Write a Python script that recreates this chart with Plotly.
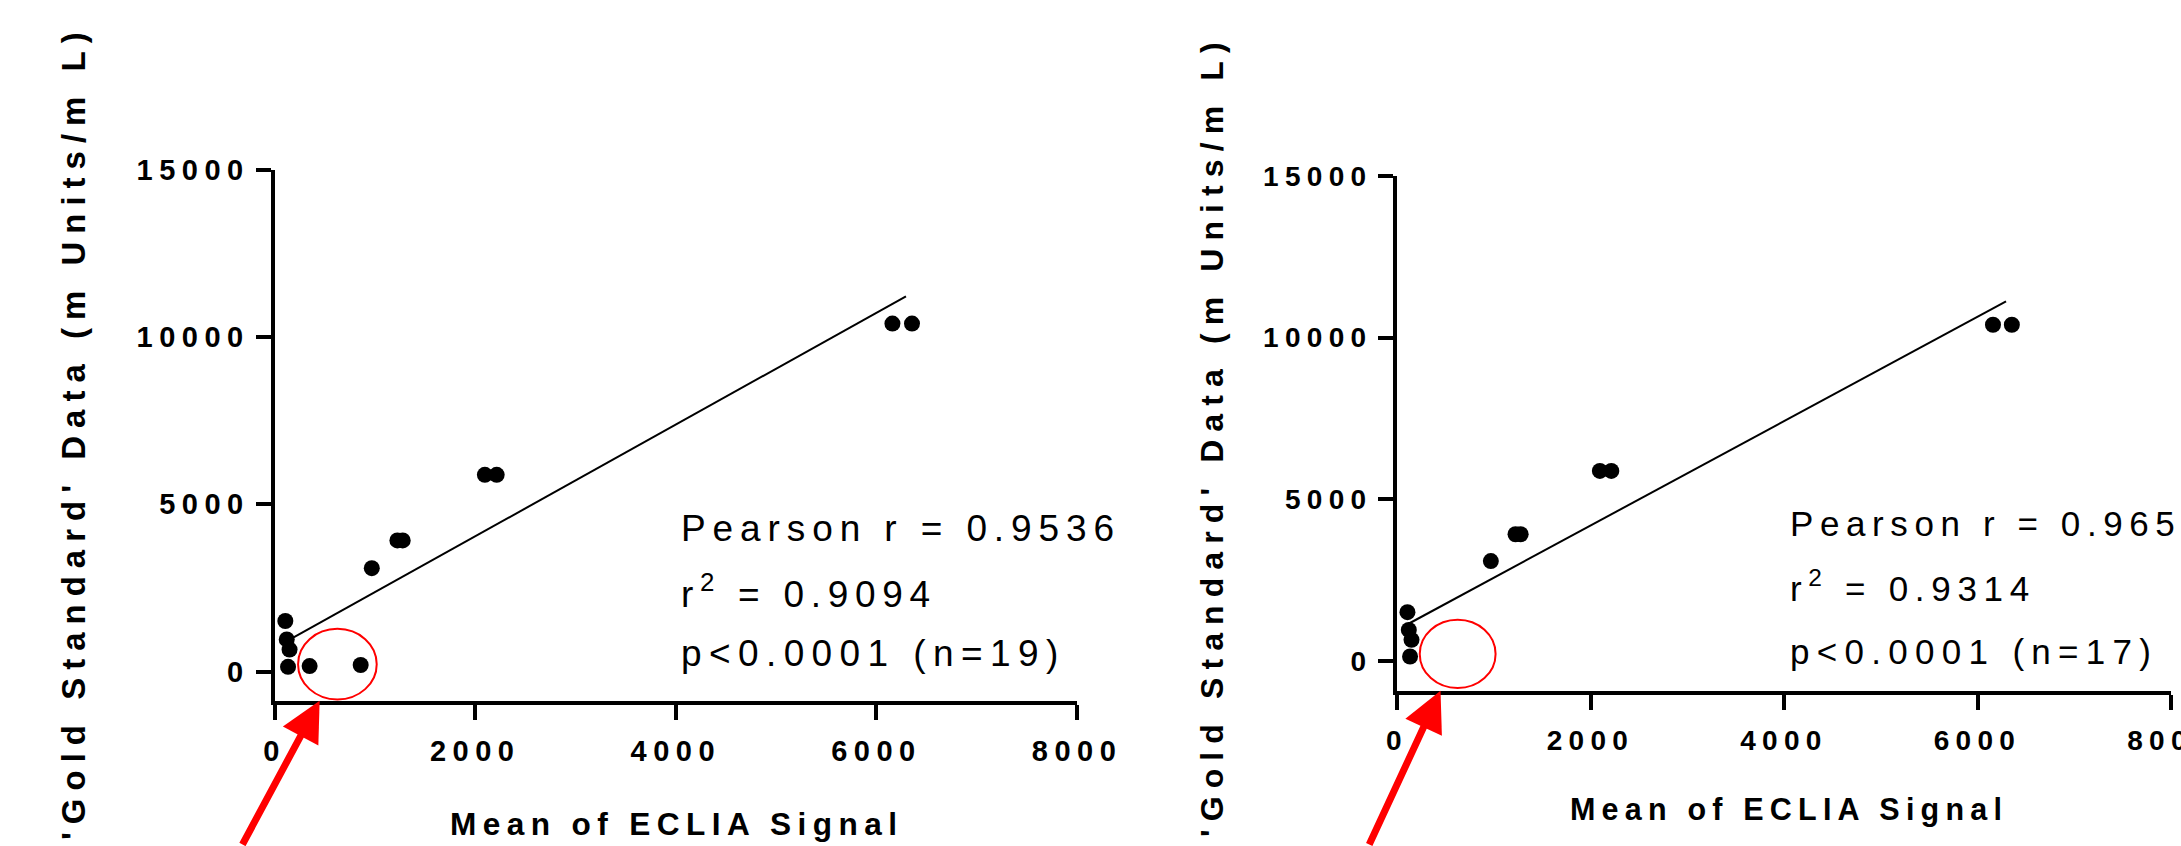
import plotly.graph_objects as go

# ---------------- data ----------------
eclia_signal = [6160, 6355, 2097, 2215, 1225, 1278, 970, 108, 122, 150, 135]
gold_standard = [10400, 10400, 5880, 5880, 3920, 3920, 3090, 1510, 960, 655, 140]
excluded_eclia = [350, 859]          # the two circled points (left panel only)
excluded_gold = [164, 194]

x_tick_values = [0, 2000, 4000, 6000, 8000]
x_tick_labels = ["0", "2000", "4000", "6000", "8000"]
y_tick_values = [0, 5000, 10000, 15000]
y_tick_labels = ["0", "5000", "10000", "15000"]

fit_slope = [1.67, 1.615]
fit_intercept = [700, 959]
fit_x_range = [110, 6295]

stats_left = ["Pearson r = 0.9536", "r<sup>2</sup> = 0.9094", "p&lt;0.0001 (n=19)"]
stats_right = ["Pearson r = 0.9651", "r<sup>2</sup> = 0.9314", "p&lt;0.0001 (n=17)"]

x_title = "Mean of ECLIA Signal"
y_title = "'Gold Standard' Data (m Units/m L)"

highlight_center = [627, 220]
highlight_half_size = [392, 1055]
arrow_tip_x = 450

# ---------------- layout helpers ----------------
W, H = 2181, 846
FONT = "Liberation Sans, Arial, Helvetica, sans-serif"


def spaced(text, px):
    return f'<span style="letter-spacing:{px}px">{text}</span>'


def fx(p):
    return p / W


def fy(p):
    return 1 - p / H


panels = [
    dict(xs=eclia_signal + excluded_eclia, ys=gold_standard + excluded_gold,
         xdom=(274.5, 1077), ytop=169.7, ybot=701.3, ymin=-890,
         tick_fs=29, tick_ls=6.5, xt_fs=31.6, xt_ls=6.4, xt_cx=676.6, xt_bot=843.7,
         yt_fs=33, yt_ls=8.0, yt_cx=74, yt_cy=432,
         st_fs=37, st_ls=[6.9, 6.7, 7.4], st_x=679, st_bot=[550.5, 617, 675.5],
         stats=stats_left, arrow=(-78, 160)),
    dict(xs=eclia_signal, ys=gold_standard,
         xdom=(1397, 2171), ytop=176, ybot=691.3, ymin=-937,
         tick_fs=28, tick_ls=6.3, xt_fs=30.5, xt_ls=6.2, xt_cx=1788.5, xt_bot=829.2,
         yt_fs=32, yt_ls=8.1, yt_cx=1212, yt_cy=436,
         st_fs=35, st_ls=[6.6, 6.7, 7.3], st_x=1788, st_bot=[545, 610, 673.4],
         stats=stats_right, arrow=(-72, 165)),
]

fig = go.Figure()
annotations = []
shapes = []
layout_axes = {}

for i, p in enumerate(panels):
    sfx = "" if i == 0 else str(i + 1)
    xref, yref = "x" + sfx, "y" + sfx

    lx = [fit_x_range[0], fit_x_range[1]]
    ly = [fit_slope[i] * v + fit_intercept[i] for v in lx]
    fig.add_trace(go.Scatter(x=lx, y=ly, mode="lines", xaxis=xref, yaxis=yref,
                             line=dict(color="black", width=2), showlegend=False,
                             hoverinfo="skip"))
    fig.add_trace(go.Scatter(x=p["xs"], y=p["ys"], mode="markers", xaxis=xref, yaxis=yref,
                             marker=dict(color="black", size=16, line=dict(width=0)),
                             showlegend=False, cliponaxis=False))

    tickfont = dict(family=FONT, size=p["tick_fs"], color="black", weight="bold")
    common = dict(showline=True, linewidth=4, linecolor="black", ticks="outside",
                  ticklen=15, tickwidth=4, tickcolor="black", showgrid=False,
                  zeroline=False, tickfont=tickfont, fixedrange=True, automargin=False)
    layout_axes["xaxis" + sfx] = dict(
        common, domain=[fx(p["xdom"][0]), fx(p["xdom"][1])], range=[0, 8000],
        anchor=yref, tickmode="array", tickvals=x_tick_values,
        ticktext=[spaced(t, p["tick_ls"]) for t in x_tick_labels],
        ticklabeloverflow="allow", ticklabelstandoff=6)
    layout_axes["yaxis" + sfx] = dict(
        common, domain=[fy(p["ybot"]), fy(p["ytop"])], range=[p["ymin"], 15000],
        anchor=xref, tickmode="array", tickvals=y_tick_values,
        ticktext=[spaced(t, p["tick_ls"]) for t in y_tick_labels],
        ticklabeloverflow="allow")

    # axis titles
    annotations.append(dict(
        text=spaced(x_title, p["xt_ls"]), xref="paper", yref="paper",
        x=fx(p["xt_cx"]), y=fy(p["xt_bot"]), xanchor="center", yanchor="bottom",
        showarrow=False, font=dict(family=FONT, size=p["xt_fs"], color="black", weight="bold")))
    annotations.append(dict(
        text=spaced(y_title, p["yt_ls"]), xref="paper", yref="paper", textangle=-90,
        x=fx(p["yt_cx"]), y=fy(p["yt_cy"]), xanchor="center", yanchor="middle",
        showarrow=False, font=dict(family=FONT, size=p["yt_fs"], color="black", weight="bold")))

    # statistics text
    for line, ls, bot in zip(p["stats"], p["st_ls"], p["st_bot"]):
        annotations.append(dict(
            text=spaced(line, ls), xref="paper", yref="paper",
            x=fx(p["st_x"]), y=fy(bot), xanchor="left", yanchor="bottom",
            showarrow=False, align="left",
            font=dict(family=FONT, size=p["st_fs"], color="black")))

    # red highlight ellipse and arrow
    shapes.append(dict(type="circle", xref=xref, yref=yref,
                       x0=highlight_center[0] - highlight_half_size[0],
                       x1=highlight_center[0] + highlight_half_size[0],
                       y0=highlight_center[1] - highlight_half_size[1],
                       y1=highlight_center[1] + highlight_half_size[1],
                       line=dict(color="#ff0000", width=2)))
    annotations.append(dict(
        text="", x=arrow_tip_x, y=p["ymin"] + 20, xref=xref, yref=yref,
        showarrow=True, ax=p["arrow"][0], ay=p["arrow"][1], axref="pixel", ayref="pixel",
        arrowhead=2, arrowsize=1.15, arrowwidth=7, arrowcolor="#ff0000", standoff=0))

fig.update_layout(
    template="none",
    width=W, height=H, margin=dict(l=0, r=0, t=0, b=0, pad=0, autoexpand=False),
    paper_bgcolor="white", plot_bgcolor="white",
    font=dict(family=FONT, color="black"),
    annotations=annotations, shapes=shapes, showlegend=False,
    **layout_axes)

# keep the page exactly the figure size: anything past the edges is cut, as in the reference
clip_js = (
    "var gd=document.getElementById('{plot_id}');"
    "document.documentElement.style.overflow='hidden';"
    "document.body.style.margin='0';document.body.style.overflow='hidden';"
    "gd.style.overflow='hidden';gd.style.width='2181px';gd.style.height='846px';"
    "var sc=gd.querySelectorAll('.svg-container');"
    "for(var k=0;k<sc.length;k++){sc[k].style.overflow='hidden';}"
)

fig.write_html("out.html", config={"displayModeBar": False}, post_script=clip_js)
